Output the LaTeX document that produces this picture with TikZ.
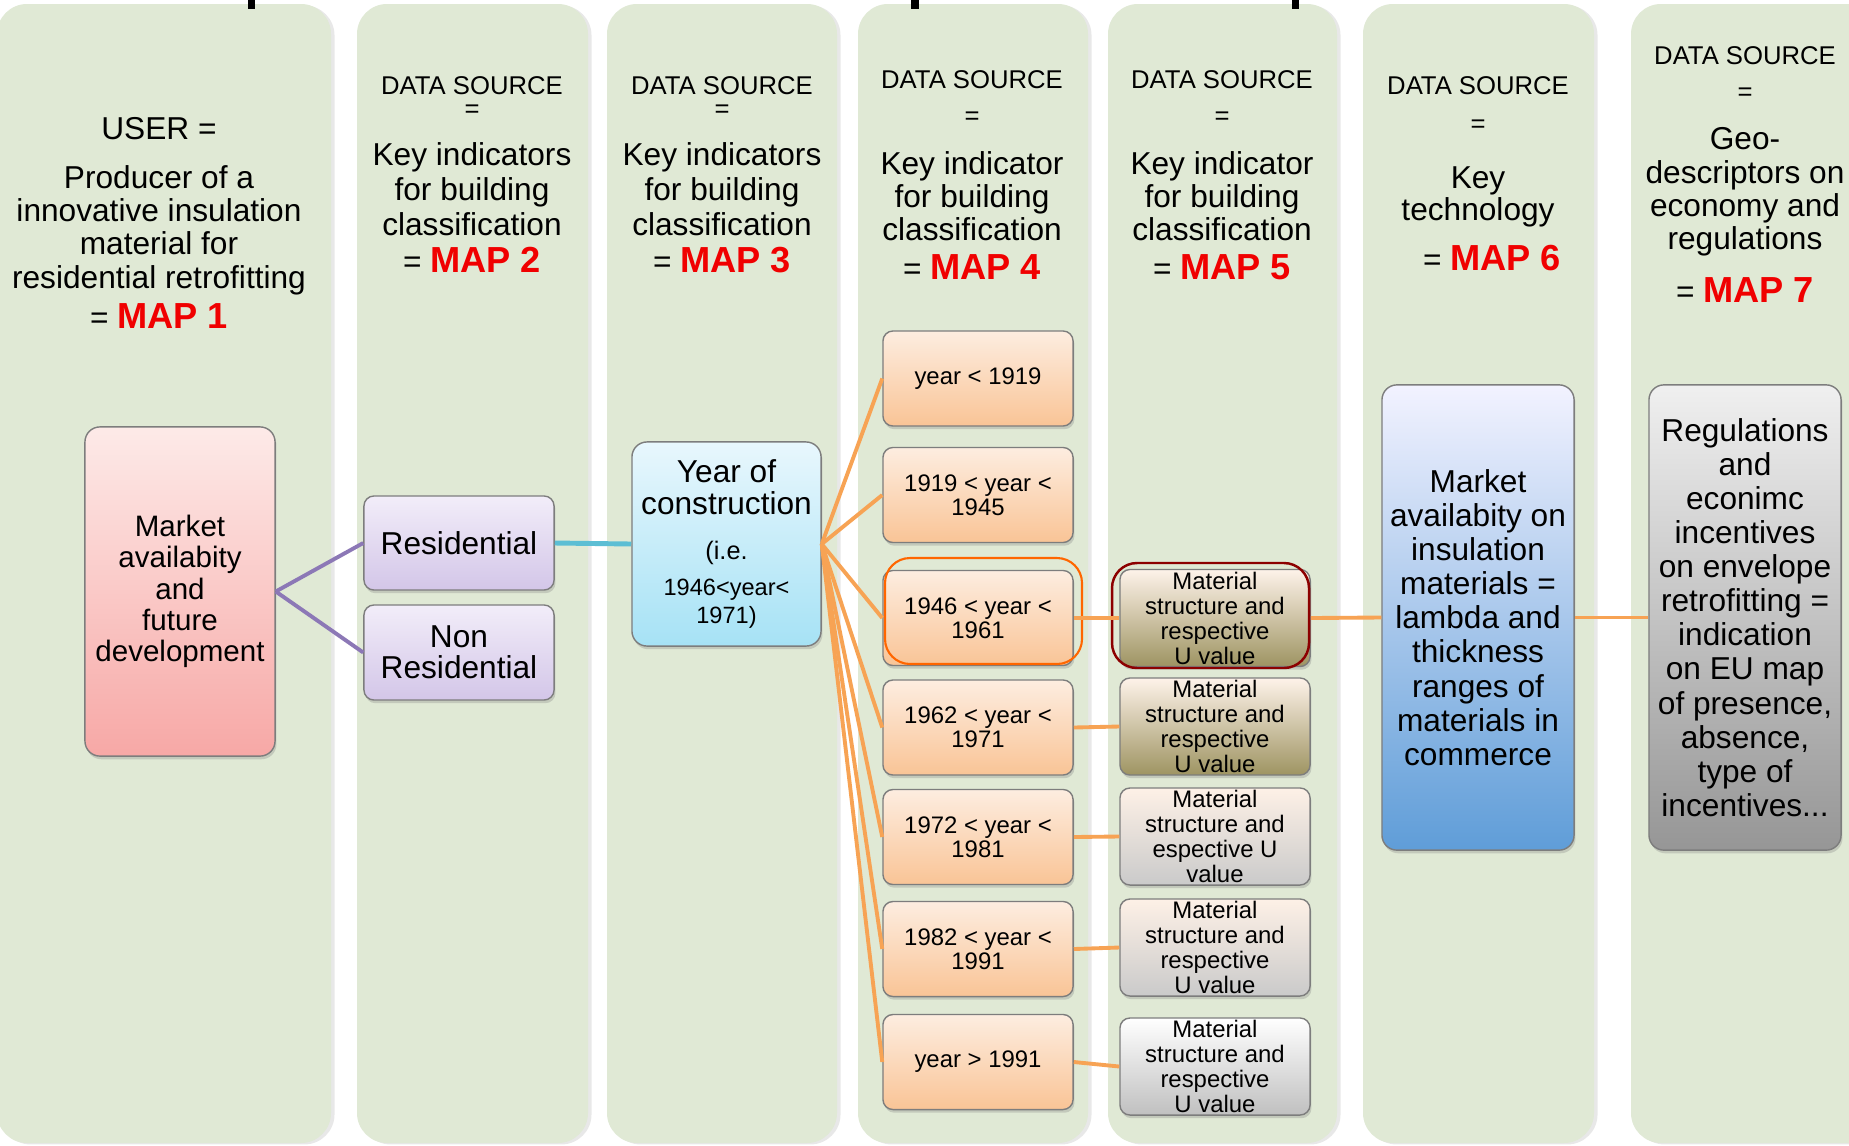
\documentclass[tikz,border=0pt]{standalone}
\usepackage{fontspec}
\setmainfont{Liberation Sans}
\usetikzlibrary{shadows}

\definecolor{colgreen}{RGB}{224,233,213}
\definecolor{boxline}{RGB}{125,125,125}
\definecolor{mapred}{RGB}{240,0,0}
\definecolor{linkorange}{RGB}{247,163,84}
\definecolor{linkpurple}{RGB}{140,120,182}
\definecolor{linkteal}{RGB}{92,190,212}
\definecolor{pinktop}{RGB}{253,234,232}
\definecolor{pinkbot}{RGB}{247,168,166}
\definecolor{lavtop}{RGB}{242,237,249}
\definecolor{lavbot}{RGB}{211,198,232}
\definecolor{cyantop}{RGB}{232,247,253}
\definecolor{cyanbot}{RGB}{166,226,245}
\definecolor{yrtop}{RGB}{253,237,224}
\definecolor{yrbot}{RGB}{249,196,150}
\definecolor{olivebot}{RGB}{158,148,98}
\definecolor{greybot}{RGB}{202,202,202}
\definecolor{mavmid}{RGB}{165,198,234}
\definecolor{mavbot}{RGB}{95,157,216}
\definecolor{regbot}{RGB}{150,150,150}
\definecolor{hlorange}{RGB}{255,102,0}
\definecolor{hlred}{RGB}{140,0,0}

\begin{document}
\begin{tikzpicture}[x=0.01cm, y=-0.01cm,
  column/.style={fill=colgreen, rounded corners=3mm,
    drop shadow={opacity=0.18, shadow xshift=1pt, shadow yshift=-0.4pt}},
  hdsmall/.style={font=\fontsize{7.3}{8}\selectfont, inner sep=0pt},
  hdtext/.style={font=\fontsize{9}{#1}\selectfont, align=center, inner sep=0pt},
  hdtext/.default=10,
  maptxt/.style={font=\fontsize{9}{10}\selectfont, inner sep=0pt},
  box/.style={draw=boxline, line width=0.4pt, rounded corners=1mm, align=center,
    inner xsep=1pt, inner ysep=0pt,
    drop shadow={opacity=0.3, shadow xshift=0.4pt, shadow yshift=-0.9pt}},
  bigbox/.style={box, rounded corners=1.5mm, minimum width=1.9cm},
  yearbox/.style={box, top color=yrtop, bottom color=yrbot, minimum width=1.9cm,
    minimum height=0.95cm, font=\fontsize{6.8}{6.8}\selectfont},
  matbox/.style={box, minimum width=1.9cm, minimum height=0.97cm,
    font=\fontsize{6.8}{7.1}\selectfont},
  olivebox/.style={top color=yrtop!70!white, bottom color=olivebot},
  greybox/.style={top color=yrtop!80!white, bottom color=greybot},
  whitebox/.style={top color=white, bottom color=greybot!95!black},
  link/.style={line width=1.1pt, linkorange},
]
\useasboundingbox (0,0) rectangle (1849,1145);
\fill[white] (0,0) rectangle (1849,1145);

% Columns
\foreach \xa/\xb in {-3/331, 357/588, 607/837, 858/1088, 1108/1337, 1363/1594, 1631/1880}
  \path[column] (\xa,4) rectangle (\xb,1143);

% Marks at the top edge
\fill[black] (248,0) rectangle (255,9);
\fill[black] (911,0) rectangle (919,9);
\fill[black] (1292,0) rectangle (1299,9);

% Column headers
\node[hdtext] (user) at (159,129) {USER =};
\foreach \c/\x/\ya/\yb in {2/472/86/111, 3/722/86/111, 4/972/80/118, 5/1222/80/118, 6/1478/86/126, 7/1745/56/94} {
  \node[hdsmall] (ds\c) at (\x,\ya) {DATA SOURCE};
  \node[hdsmall] (eq\c) at (\x,\yb) {=};
}
\node[hdtext=9.5] (key1) at (159,230) {Producer of a\\innovative insulation\\material for\\residential retrofitting};
\node[hdtext=10] (key2) at (472,189) {Key indicators\\for building\\classification};
\node[hdtext=10] (key3) at (722,189) {Key indicators\\for building\\classification};
\node[hdtext=9.4] (key4) at (972,196) {Key indicator\\for building\\classification};
\node[hdtext=9.4] (key5) at (1222,196) {Key indicator\\for building\\classification};
\node[hdtext=9.1] (key6) at (1478,197) {Key\\technology};
\node[hdtext=9.5] (key7) at (1745,192) {Geo-\\descriptors on\\economy and\\regulations};
\foreach \c/\x/\y in {1/159/316, 2/472/260, 3/722/260, 4/972/267, 5/1222/267, 6/1492/258, 7/1745/290}
  \node[maptxt] (map\c) at (\x,\y) {= \textcolor{mapred}{\fontsize{10.3}{11}\selectfont\bfseries MAP \c}};

% Boxes
\node[bigbox, top color=pinktop, bottom color=pinkbot, minimum height=3.29cm,
  font=\fontsize{8.4}{8.9}\selectfont] (mkt) at (180,591.5)
  {Market\\availabity\\and\\future\\development};
\node[box, top color=lavtop, bottom color=lavbot, minimum width=1.9cm, minimum height=0.94cm,
  font=\fontsize{9}{8.9}\selectfont] (res) at (459,543) {Residential};
\node[box, top color=lavtop, bottom color=lavbot, minimum width=1.9cm, minimum height=0.95cm,
  font=\fontsize{9}{8.9}\selectfont] (nres) at (459,652.5) {Non\\Residential};
\node[bigbox, top color=cyantop, bottom color=cyanbot, minimum width=1.89cm, minimum height=2.04cm,
  font=\fontsize{6.7}{8}\selectfont] (yoc) at (726.5,544)
  {{\fontsize{9}{9}\selectfont Year of}\\[1.1pt]
   {\fontsize{9}{9}\selectfont construction}\\[4.8pt]
   {\fontsize{7.2}{8}\selectfont (i.e.}\\[2pt]
   1946<year<\\1971)};

\foreach \n/\y/\txt in {1/378.5/{year < 1919}, 2/495/{1919 < year <\\1945}, 3/618/{1946 < year <\\1961},
    4/727.5/{1962 < year <\\1971}, 5/837/{1972 < year <\\1981}, 6/949/{1982 < year <\\1991}, 7/1062/{year > 1991}}
  \node[yearbox] (yr\n) at (978,\y) {\txt};

\foreach \n/\y/\sty/\txt in {1/618/olivebox/{Material\\structure and\\respective\\U value},
    2/726.5/olivebox/{Material\\structure and\\respective\\U value},
    3/836.5/greybox/{Material\\structure and\\espective U\\value},
    4/947.5/greybox/{Material\\structure and\\respective\\U value},
    5/1066.5/whitebox/{Material\\structure and\\respective\\U value}}
  \node[matbox, \sty] (mat\n) at (1215,\y) {\txt};

\node[bigbox, top color=white!95!blue, middle color=mavmid, bottom color=mavbot,
  minimum width=1.92cm, minimum height=4.65cm, font=\fontsize{9}{9.7}\selectfont] (mav) at (1478,617.5)
  {Market\\availabity on\\insulation\\materials =\\lambda and\\thickness\\ranges of\\materials in\\commerce};
\node[bigbox, top color=white!94!black, bottom color=regbot,
  minimum width=1.92cm, minimum height=4.65cm, font=\fontsize{9}{9.7}\selectfont] (reg) at (1745,617.5)
  {Regulations\\and\\econimc\\incentives\\on envelope\\retrofitting =\\indication\\on EU map\\of presence,\\absence,\\type of\\incentives...};

% Highlight outlines
\draw[hlorange, line width=0.6pt, rounded corners=2.5mm] (885,558) rectangle (1082,664);
\draw[hlred, line width=0.7pt, rounded corners=2.5mm] (1112,563) rectangle (1309,668);

% Connectors
\draw[linkpurple, line width=1.1pt] (mkt.east) -- (res.west);
\draw[linkpurple, line width=1.1pt] (mkt.east) -- (nres.west);
\draw[linkteal, line width=1.4pt] (res.east) -- (yoc.west);
\foreach \n in {1,...,7}
  \draw[link] (yoc.east) -- (yr\n.west);
\foreach \a/\b in {3/1, 4/2, 5/3, 6/4, 7/5}
  \draw[link] (yr\a.east) -- (mat\b.west);
\draw[link] (mat1.east) -- (mav.west);
\draw[link] (mav.east) -- (reg.west);
\end{tikzpicture}
\end{document}
